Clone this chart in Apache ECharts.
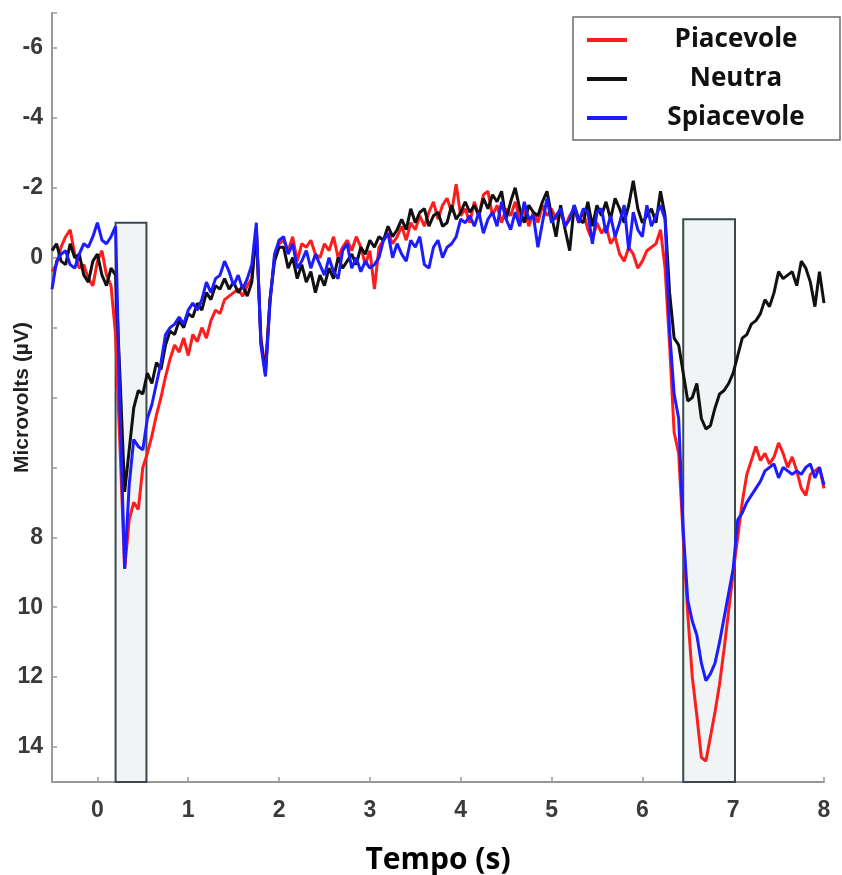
<!DOCTYPE html>
<html>
<head>
<meta charset="utf-8">
<script src="https://cdn.jsdelivr.net/npm/echarts@6/dist/echarts.min.js"></script>
<style>
html,body{margin:0;padding:0;background:#ffffff;}
#chart{width:842px;height:875px;}
</style>
</head>
<body>
<div id="chart"></div>
<script>
// sampling grid of the traces (seconds)
const timeStart = -0.5;
const timeStep = 0.05;

// Piacevole (red) – microvolts, every 0.05 s from -0.5 to 8.0 s
const piacevole = [
  0.4, 0.2, -0.3, -0.6, -0.8, -0.1, 0.3, 0.2, 0.6, 0.8,
  0.1, -0.2, 0.5, 0.8, 2.2, 5.5, 8.9, 7.5, 7.0, 7.2,
  6.0, 5.6, 5.1, 4.5, 4.0, 3.4, 2.9, 2.5, 2.7, 2.3,
  2.8, 2.2, 2.4, 2.0, 2.3, 1.8, 1.5, 1.6, 1.2, 1.1,
  1.0, 0.9, 1.1, 0.8, 0.6, -0.8, 2.3, 3.2, 1.2, 0.0,
  -0.4, -0.5, -0.2, -0.6, 0.1, -0.4, -0.3, -0.5, -0.1, 0.0,
  -0.4, -0.2, -0.6, 0.0, -0.3, -0.5, -0.2, -0.6, -0.3, 0.2,
  -0.2, 0.9, -0.3, -0.5, -0.7, -0.4, -0.6, -0.9, -0.5, -1.0,
  -0.8, -1.2, -0.9, -1.3, -1.6, -1.1, -1.5, -1.7, -1.3, -2.1,
  -1.2, -1.4, -1.0, -1.6, -1.2, -1.8, -1.9, -1.2, -1.5, -1.0,
  -1.4, -1.2, -1.6, -1.1, -1.4, -0.9, -1.3, -1.0, -1.5, -1.2,
  -1.4, -1.1, -1.3, -0.9, -1.2, -1.4, -1.0, -1.3, -0.8, -0.5,
  -1.0, -0.7, -0.9, -0.4, -0.6, -0.1, 0.1, -0.3, -0.1, 0.3,
  0.1, -0.2, -0.3, -0.4, -0.8, 0.3, 2.5, 5.0, 5.6, 8.0,
  10.2, 12.0, 13.1, 14.3, 14.4, 13.7, 13.0, 12.2, 11.2, 10.1,
  9.0, 8.0, 7.0, 6.2, 5.8, 5.4, 5.8, 5.6, 5.9, 5.7,
  5.3, 5.6, 6.0, 5.7, 6.1, 6.6, 6.8, 6.2, 6.1, 6.0,
  6.6
];

// Neutra (black)
const neutra = [
  -0.2, -0.4, 0.1, 0.2, -0.4, 0.0, -0.1, 0.5, 0.7, 0.1,
  -0.1, 0.5, 0.8, 0.3, 0.5, 3.5, 6.7, 5.5, 4.3, 3.8,
  3.9, 3.3, 3.6, 3.0, 3.2, 2.5, 2.1, 2.2, 1.8, 2.0,
  1.6, 1.7, 1.3, 1.5, 1.0, 1.2, 0.8, 0.9, 0.6, 0.9,
  0.7, 1.0, 0.8, 1.1, 0.7, -0.8, 2.4, 3.3, 1.2, 0.1,
  -0.3, -0.3, 0.3, 0.0, 0.6, 0.2, 0.7, 0.4, 1.0, 0.5,
  0.8, 0.3, 0.6, 0.0, 0.3, 0.1, -0.1, 0.2, -0.3, -0.1,
  -0.5, -0.3, -0.6, -0.5, -0.9, -0.6, -0.8, -1.1, -0.8, -1.4,
  -1.0, -1.3, -1.4, -0.9, -1.2, -1.3, -0.9, -1.0, -1.5, -1.1,
  -1.3, -1.6, -1.3, -1.5, -1.2, -1.7, -1.4, -1.8, -1.6, -1.9,
  -1.1, -1.6, -2.0, -1.4, -1.0, -1.5, -1.3, -1.2, -1.6, -1.9,
  -1.2, -0.6, -1.5, -0.8, -0.2, -1.5, -1.1, -1.0, -1.6, -0.9,
  -1.5, -1.2, -1.6, -1.1, -1.7, -1.4, -1.0, -1.5, -2.2, -1.4,
  -1.0, -1.2, -1.4, -1.0, -1.9, -1.2, 1.0, 2.3, 2.5, 3.3,
  4.1, 4.0, 3.6, 4.6, 4.9, 4.8, 4.3, 3.9, 3.8, 3.6,
  3.3, 2.8, 2.3, 2.2, 1.9, 1.8, 1.6, 1.2, 1.4, 1.0,
  0.4, 0.6, 0.5, 0.4, 0.8, 0.1, 0.3, 0.7, 1.4, 0.4,
  1.3
];

// Spiacevole (blue)
const spiacevole = [
  0.9, 0.1, -0.1, -0.2, 0.2, 0.3, -0.1, -0.4, -0.3, -0.6,
  -1.0, -0.5, -0.4, -0.6, -0.9, 4.5, 8.9, 6.5, 5.2, 5.4,
  5.5, 4.6, 4.2, 3.6, 3.0, 2.2, 2.0, 1.9, 1.7, 1.9,
  1.5, 1.3, 1.5, 1.2, 0.7, 1.0, 0.6, 0.5, 0.1, 0.4,
  0.8, 0.5, 0.9, 0.6, 0.2, -1.0, 2.5, 3.4, 1.3, -0.1,
  -0.5, -0.6, -0.1, -0.4, 0.3, 0.1, -0.2, 0.3, -0.1, 0.2,
  0.5, 0.0, 0.4, 0.6, -0.2, -0.4, 0.3, 0.0, 0.4, 0.1,
  0.3, 0.2, 0.0, -0.5, -0.7, 0.0, -0.4, -0.1, 0.1, -0.5,
  -0.3, -0.6, 0.2, 0.3, -0.3, -0.5, 0.0, -0.3, -0.4, -0.6,
  -1.1, -1.0, -1.2, -0.9, -1.3, -0.7, -1.1, -1.3, -0.9, -1.6,
  -1.1, -0.8, -1.3, -0.9, -1.6, -1.1, -1.2, -0.3, -1.0, -1.7,
  -1.0, -1.2, -1.4, -0.9, -1.1, -1.5, -1.0, -1.4, -1.3, -0.4,
  -1.3, -1.4, -0.7, -1.2, -0.6, -1.0, -1.5, -0.2, -1.3, -0.8,
  -0.6, -1.5, -0.9, -1.2, -1.5, -1.1, 2.1, 3.9, 4.6, 7.8,
  9.8, 10.4, 10.8, 11.6, 12.1, 11.9, 11.6, 11.0, 10.3, 9.6,
  8.9, 7.5, 7.3, 7.0, 6.8, 6.6, 6.4, 6.1, 6.0, 5.9,
  6.3, 6.0, 6.1, 6.2, 6.1, 6.2, 6.0, 5.9, 6.3, 6.0,
  6.5
];

const seriesNames = ['Piacevole', 'Neutra', 'Spiacevole'];
const yLabelValues = [-6, -4, -2, 0, 8, 10, 12, 14];
const xLabelValues = [0, 1, 2, 3, 4, 5, 6, 7, 8];
// analysis windows: [start s, end s, top µV]
const windowStarts = [0.2, 6.45];
const windowEnds = [0.54, 7.02];
const windowTops = [-1.0, -1.1];

const xMin = -0.5, xMax = 8, yMin = -7, yMax = 15;

function toPairs(vals) {
  return vals.map(function (v, i) { return [+(timeStart + i * timeStep).toFixed(2), v]; });
}

const colors = ['#ff1c1c', '#111111', '#1c1cff'];
const allValues = [piacevole, neutra, spiacevole];

const markAreaData = windowStarts.map(function (s, i) {
  return [{ xAxis: s, yAxis: windowTops[i] }, { xAxis: windowEnds[i], yAxis: yMax }];
});

const series = seriesNames.map(function (name, k) {
  const s = {
    name: name,
    type: 'line',
    data: toPairs(allValues[k]),
    showSymbol: false,
    symbol: 'none',
    smooth: false,
    lineStyle: { color: colors[k], width: 3 },
    itemStyle: { color: colors[k] },
    z: 3 + k
  };
  if (k === 0) {
    s.markArea = {
      silent: true,
      z: 1,
      itemStyle: { color: '#f1f4f5', borderColor: '#3b494e', borderWidth: 2 },
      data: markAreaData
    };
  }
  return s;
});

const chart = echarts.init(document.getElementById('chart'), null, { renderer: 'canvas' });
chart.setOption({
  animation: false,
  backgroundColor: '#ffffff',
  grid: { left: 52, right: 18, top: 13, bottom: 93, containLabel: false, outerBoundsMode: 'none' },
  legend: {
    data: seriesNames,
    orient: 'vertical',
    left: 573,
    top: 17,
    padding: [10, 0, 9, 14],
    itemWidth: 40,
    itemHeight: 4,
    itemGap: 13,
    icon: 'rect',
    backgroundColor: '#ffffff',
    borderColor: '#6b6b6b',
    borderWidth: 1.5,
    borderRadius: 0,
    selectedMode: false,
    formatter: function (name) { return '{n|' + name + '}'; },
    textStyle: {
      fontFamily: 'Open Sans',
      fontWeight: 'bold',
      fontSize: 26,
      color: '#111111',
      rich: {
        n: { width: 208, align: 'center', fontFamily: 'Open Sans', fontWeight: 'bold', fontSize: 26, lineHeight: 30, color: '#111111' }
      }
    }
  },
  xAxis: {
    type: 'value',
    min: xMin,
    max: xMax,
    splitNumber: 8,
    name: 'Tempo (s)',
    nameLocation: 'middle',
    nameGap: 63,
    nameMoveOverlap: false,
    nameTextStyle: { fontFamily: 'Open Sans', fontWeight: 'bold', fontSize: 30, color: '#000000' },
    axisLine: { show: true, onZero: false, lineStyle: { color: '#999999', width: 2 } },
    axisTick: { show: true, inside: true, length: 5, lineStyle: { color: '#999999', width: 1.5 } },
    splitLine: { show: false },
    axisLabel: {
      margin: 17,
      fontFamily: 'Liberation Sans',
      fontWeight: 'bold',
      fontSize: 23,
      color: '#3a3a3a',
      formatter: function (v) { return xLabelValues.indexOf(v) >= 0 ? String(v) : ''; }
    }
  },
  yAxis: {
    type: 'value',
    inverse: true,
    min: yMin,
    max: yMax,
    splitNumber: 11,
    name: 'Microvolts (µV)',
    nameLocation: 'middle',
    nameGap: 19,
    nameMoveOverlap: false,
    nameTextStyle: { fontFamily: 'Liberation Sans', fontWeight: 'bold', fontSize: 21, color: '#222222' },
    axisLine: { show: true, onZero: false, lineStyle: { color: '#999999', width: 2 } },
    axisTick: { show: true, inside: true, length: 5, lineStyle: { color: '#999999', width: 1.5 } },
    splitLine: { show: false },
    axisLabel: {
      margin: 9,
      fontFamily: 'Liberation Sans',
      fontWeight: 'bold',
      fontSize: 23,
      color: '#3a3a3a',
      formatter: function (v) { return yLabelValues.indexOf(v) >= 0 ? String(v) : ''; }
    }
  },
  series: series
});
</script>
</body>
</html>
